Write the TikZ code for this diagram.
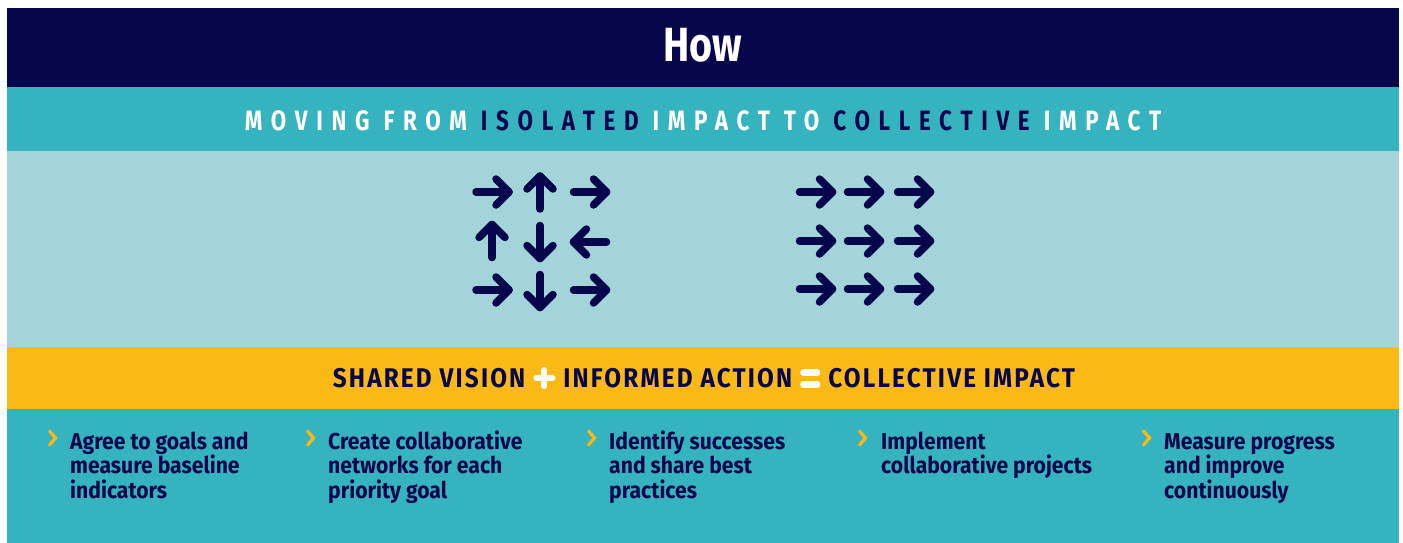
\documentclass[tikz,border=0pt]{standalone}
\usepackage{fontspec}
\setmainfont{Fira Sans}
\newfontfamily\howfont{Fira Sans}[FakeStretch=0.82]
\newfontfamily\spacedfont{Fira Sans}[FakeStretch=0.8,LetterSpace=31]
\newfontfamily\bandfont{Fira Sans}[FakeStretch=0.9,LetterSpace=8]
\newfontfamily\bodyfont{Fira Sans}[FakeStretch=0.92]
\definecolor{navy}{HTML}{07064C}
\definecolor{teal}{HTML}{35B3BF}
\definecolor{lightb}{HTML}{A3D4DA}
\definecolor{gold}{HTML}{FBB915}
\tikzset{
  arrowline/.style={draw=navy,line width=7.5pt,line cap=round,line join=round},
  arr/.pic={\draw[arrowline] (-16.5,0) -- (16.5,0); \draw[arrowline] (3.5,-13) -- (16.5,0) -- (3.5,13);},
  chev/.style={draw=gold,line width=3.2pt,line cap=round,line join=miter},
  item/.style={anchor=north west,inner sep=0pt,align=left,text=navy,font=\bodyfont\bfseries\fontsize{23}{24.5}\selectfont},
  symbar/.style={draw=white,line width=6.2pt,line cap=round}
}
\newcommand\firststrut{\rule{0pt}{20pt}}
\newcommand\plusmark{\tikz[baseline=0pt,x=1pt,y=1pt]{\draw[symbar] (0,9) -- (16,9) (8,1) -- (8,17);}}
\newcommand\equalsmark{\tikz[baseline=0pt,x=1pt,y=1pt]{\draw[symbar] (0,2.6) -- (14,2.6) (0,14.6) -- (14,14.6);}}
\begin{document}
\begin{tikzpicture}[x=1pt,y=-1pt]
\useasboundingbox (0,0) rectangle (1403,543);
\fill[white] (0,0) rectangle (1403,543);
% bands
\fill[navy] (7,8) rectangle (1398.5,87);
\fill[teal] (7,87) rectangle (1398.5,151);
\fill[lightb] (7,151) rectangle (1398.5,347);
\fill[gold] (7,347) rectangle (1398.5,409);
\fill[teal] (7,409) rectangle (1398.5,543);
% titles
\node[anchor=base,inner sep=0pt,text=white,font=\howfont\bfseries\fontsize{48}{48}\selectfont] (how) at (703,62) {How};
\node[anchor=base,inner sep=0pt,font=\spacedfont\bfseries\fontsize{28}{28}\selectfont] (moving) at (703,130)
  {\textcolor{white}{MOVING FROM} \textcolor{navy}{ISOLATED} \textcolor{white}{IMPACT TO} \textcolor{navy}{COLLECTIVE} \textcolor{white}{IMPACT}};
\node[anchor=base,inner sep=0pt,font=\bandfont\bfseries\fontsize{27}{27}\selectfont,text=navy] (eq) at (704,387)
  {SHARED VISION \plusmark{} INFORMED ACTION \equalsmark{} COLLECTIVE IMPACT};
% left grid (isolated)
\pic at (492.5,192) {arr};
\pic[rotate=90] at (540,192.5) {arr};
\pic at (590,192) {arr};
\pic[rotate=90] at (492,241) {arr};
\pic[rotate=-90] at (540,242) {arr};
\pic[rotate=180] at (590,242) {arr};
\pic at (492.5,290) {arr};
\pic[rotate=-90] at (540,291) {arr};
\pic at (590,290) {arr};
% right grid (collective)
\foreach \yy in {192,241,289}{
  \foreach \xx in {816,864,914}{
    \pic at (\xx,\yy) {arr};
  }
}
% items
\foreach \cx in {52,310,591,862,1146}{
  \draw[chev] (\cx-2.5,431) -- (\cx+3.5,438) -- (\cx-2.5,445);
}
\node[item] (a) at (70,429) {\firststrut Agree to goals and\\measure baseline\\indicators};
\node[item] (b) at (328,429) {\firststrut Create collaborative\\networks for each\\priority goal};
\node[item] (c) at (609,429) {\firststrut Identify successes\\and share best\\practices};
\node[item] (d) at (881,429) {\firststrut Implement\\collaborative projects};
\node[item] (e) at (1164,429) {\firststrut Measure progress\\and improve\\continuously};
\end{tikzpicture}
\end{document}
